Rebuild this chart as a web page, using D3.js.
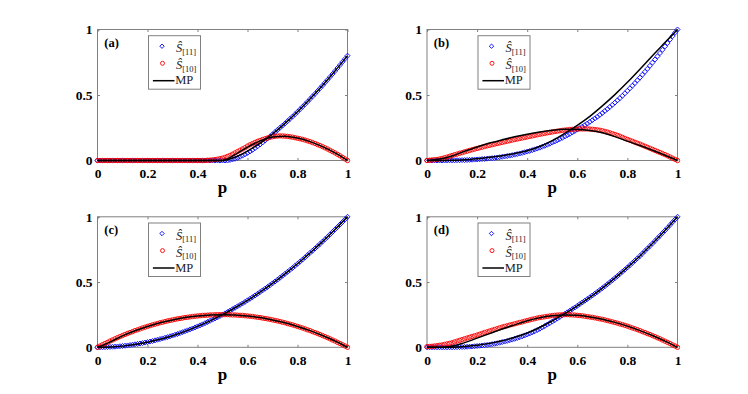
<!DOCTYPE html>
<html><head><meta charset="utf-8">
<script src="https://cdn.jsdelivr.net/npm/d3@7"></script>
<style>body{margin:0;background:#fff}svg{display:block}</style>
</head><body><svg id="c" width="748" height="394"></svg>
<script>
// ---- grids and tick labels ----
const pGrid = d3.range(101).map(i => i / 100);   // marker sampling grid of p
const mpGrid = d3.range(21).map(i => i / 20);    // MP line sampling grid of p
const xTicks = [0, 0.2, 0.4, 0.6, 0.8, 1];
const xTickLabels = ["0", "0.2", "0.4", "0.6", "0.8", "1"];
const yTicks = [0, 0.5, 1];
const yTickLabels = ["0", "0.5", "1"];
const panelLabels = ["(a)", "(b)", "(c)", "(d)"];
const xLabel = "p";
const legendSub = ["[11]", "[10]"];
const legendMP = "MP";

// ---- panel (a) ----
const a_S11 = [
0,0,0,0,0,0,0,0,0,0,
0,0,0,0,0,0,0,0,0,0,
0,0,0,0,0,0,0,0,0,0,
0,0,0,0,0,0,0,0,0,0,
0,0,0,0,0,0,0,0,0,0,
0,0,0,0.004,0.008,0.013,0.020,0.028,0.037,0.047,
0.058,0.069,0.081,0.094,0.108,0.122,0.137,0.152,0.168,0.184,
0.200,0.217,0.234,0.250,0.266,0.283,0.300,0.318,0.335,0.353,
0.372,0.391,0.410,0.429,0.449,0.469,0.489,0.509,0.530,0.551,
0.572,0.594,0.616,0.638,0.660,0.683,0.706,0.729,0.753,0.776,
0.800];
const a_S10 = [
0,0,0,0,0,0,0,0,0,0,
0,0,0,0,0,0,0,0,0,0,
0,0,0,0,0,0,0,0,0,0,
0,0,0,0,0,0,0,0,0,0,
0,0,0,0,0.002,0.003,0.005,0.007,0.010,0.014,
0.018,0.024,0.031,0.039,0.048,0.058,0.068,0.078,0.088,0.098,
0.110,0.120,0.129,0.138,0.146,0.153,0.160,0.166,0.172,0.177,
0.182,0.185,0.187,0.188,0.187,0.186,0.184,0.181,0.178,0.174,
0.170,0.166,0.161,0.156,0.150,0.144,0.137,0.130,0.122,0.114,
0.106,0.097,0.088,0.078,0.068,0.058,0.047,0.036,0.024,0.012,
0];
const a_MP11 = [0,0,0,0,0,0,0,0,0,0,0,0.025,0.072,0.131,0.202,0.283,0.372,0.469,0.572,0.683,0.800];
const a_MP10 = [0,0,0,0,0,0,0,0,0,0,0,0.045,0.102,0.150,0.180,0.186,0.171,0.144,0.106,0.058,0];

// ---- panel (b) ----
const b_S11 = [
0,0,0,0,0,0,0,0,0.001,0.001,
0.001,0.001,0.002,0.002,0.003,0.003,0.004,0.005,0.006,0.007,
0.008,0.009,0.011,0.012,0.014,0.016,0.018,0.020,0.022,0.025,
0.028,0.031,0.034,0.037,0.041,0.045,0.049,0.053,0.058,0.063,
0.068,0.073,0.079,0.085,0.091,0.098,0.105,0.112,0.120,0.128,
0.137,0.145,0.154,0.164,0.173,0.183,0.193,0.203,0.214,0.225,
0.236,0.247,0.258,0.270,0.282,0.295,0.308,0.321,0.334,0.348,
0.363,0.378,0.393,0.409,0.425,0.442,0.459,0.476,0.494,0.513,
0.532,0.551,0.571,0.591,0.612,0.633,0.655,0.677,0.700,0.723,
0.747,0.771,0.795,0.820,0.845,0.871,0.896,0.923,0.949,0.975,
1];
const b_S10 = [
0,0.002,0.004,0.006,0.008,0.011,0.016,0.021,0.026,0.032,
0.038,0.044,0.049,0.055,0.060,0.066,0.071,0.077,0.082,0.087,
0.092,0.097,0.102,0.107,0.112,0.116,0.121,0.125,0.130,0.134,
0.138,0.143,0.147,0.151,0.156,0.160,0.164,0.168,0.172,0.176,
0.180,0.184,0.188,0.192,0.196,0.200,0.204,0.207,0.211,0.214,
0.218,0.221,0.224,0.227,0.230,0.232,0.234,0.236,0.238,0.239,
0.240,0.241,0.241,0.241,0.241,0.240,0.238,0.236,0.234,0.231,
0.227,0.222,0.217,0.211,0.205,0.199,0.192,0.185,0.177,0.169,
0.161,0.154,0.147,0.139,0.132,0.125,0.117,0.109,0.101,0.093,
0.085,0.077,0.069,0.061,0.053,0.045,0.036,0.027,0.018,0.009,
0];
const b_MP11 = [0,0,0.002,0.006,0.014,0.024,0.037,0.054,0.075,0.107,0.152,0.207,0.268,0.337,0.417,0.503,0.597,0.697,0.800,0.900,1];
const b_MP10 = [0,0.012,0.035,0.070,0.103,0.133,0.158,0.181,0.201,0.218,0.231,0.238,0.237,0.229,0.212,0.182,0.148,0.114,0.078,0.040,0];

// ---- panel (c) ----
const c_S11 = [
0,0,0,0.001,0.002,0.003,0.004,0.005,0.006,0.008,
0.010,0.012,0.014,0.017,0.020,0.023,0.026,0.029,0.032,0.036,
0.040,0.044,0.048,0.053,0.058,0.063,0.068,0.073,0.078,0.084,
0.090,0.096,0.102,0.109,0.116,0.123,0.130,0.137,0.144,0.152,
0.160,0.168,0.176,0.185,0.194,0.203,0.212,0.221,0.230,0.240,
0.250,0.260,0.270,0.281,0.292,0.303,0.314,0.325,0.336,0.348,
0.360,0.372,0.384,0.397,0.410,0.423,0.436,0.449,0.462,0.476,
0.490,0.504,0.518,0.533,0.548,0.563,0.578,0.593,0.608,0.624,
0.640,0.656,0.672,0.689,0.706,0.723,0.740,0.757,0.774,0.792,
0.810,0.828,0.846,0.865,0.884,0.903,0.922,0.941,0.960,0.980,
1];
const c_S10 = [
0,0.010,0.020,0.029,0.038,0.048,0.056,0.065,0.074,0.082,
0.090,0.098,0.106,0.113,0.120,0.128,0.134,0.141,0.148,0.154,
0.160,0.166,0.172,0.177,0.182,0.188,0.192,0.197,0.202,0.206,
0.210,0.214,0.218,0.221,0.224,0.228,0.230,0.233,0.236,0.238,
0.240,0.242,0.244,0.245,0.246,0.248,0.248,0.249,0.250,0.250,
0.250,0.250,0.250,0.249,0.248,0.248,0.246,0.245,0.244,0.242,
0.240,0.238,0.236,0.233,0.230,0.228,0.224,0.221,0.218,0.214,
0.210,0.206,0.202,0.197,0.192,0.188,0.182,0.177,0.172,0.166,
0.160,0.154,0.148,0.141,0.134,0.128,0.120,0.113,0.106,0.098,
0.090,0.082,0.074,0.065,0.056,0.048,0.038,0.029,0.020,0.010,
0];
const c_MP11 = [0,0.002,0.009,0.021,0.039,0.061,0.089,0.122,0.160,0.203,0.250,0.303,0.360,0.423,0.490,0.563,0.640,0.723,0.810,0.903,1];
const c_MP10 = [0,0.040,0.088,0.127,0.160,0.188,0.210,0.228,0.240,0.248,0.250,0.248,0.240,0.228,0.210,0.188,0.160,0.128,0.090,0.048,0];

// ---- panel (d) ----
const d_S11 = [
0,0,0,0,0,0,0,0,0,0,
0,0.001,0.001,0.002,0.002,0.003,0.004,0.005,0.006,0.008,
0.010,0.012,0.014,0.016,0.018,0.021,0.024,0.027,0.031,0.035,
0.040,0.044,0.049,0.054,0.059,0.065,0.071,0.077,0.084,0.091,
0.098,0.106,0.114,0.123,0.132,0.142,0.152,0.163,0.174,0.185,
0.197,0.208,0.220,0.232,0.244,0.256,0.268,0.280,0.293,0.305,
0.318,0.331,0.344,0.357,0.370,0.383,0.397,0.411,0.425,0.439,
0.453,0.468,0.483,0.499,0.514,0.530,0.546,0.562,0.579,0.595,
0.612,0.629,0.647,0.664,0.682,0.700,0.719,0.738,0.757,0.776,
0.795,0.815,0.835,0.855,0.875,0.895,0.916,0.937,0.958,0.979,
1];
const d_S10 = [
0.005,0.006,0.008,0.010,0.012,0.015,0.018,0.022,0.026,0.030,
0.035,0.041,0.047,0.053,0.059,0.065,0.071,0.077,0.083,0.088,
0.094,0.100,0.107,0.113,0.119,0.125,0.131,0.137,0.143,0.149,
0.155,0.160,0.165,0.170,0.175,0.180,0.185,0.190,0.195,0.200,
0.205,0.210,0.215,0.219,0.224,0.228,0.231,0.234,0.237,0.240,
0.243,0.245,0.247,0.248,0.249,0.250,0.250,0.249,0.248,0.247,
0.245,0.243,0.241,0.238,0.235,0.232,0.229,0.226,0.222,0.218,
0.214,0.210,0.205,0.200,0.195,0.190,0.185,0.179,0.174,0.168,
0.162,0.155,0.148,0.142,0.135,0.128,0.120,0.113,0.105,0.098,
0.090,0.082,0.073,0.065,0.056,0.047,0.038,0.029,0.019,0.010,
0];
const d_MP11 = [0,0,0.001,0.006,0.015,0.030,0.050,0.077,0.110,0.152,0.203,0.258,0.318,0.383,0.453,0.530,0.612,0.700,0.795,0.895,1];
const d_MP10 = [0,0,0.008,0.036,0.070,0.105,0.140,0.172,0.203,0.226,0.241,0.248,0.245,0.233,0.215,0.191,0.162,0.128,0.090,0.047,0];

// ---- layout (not data) ----
const panels = [
  {s11: a_S11, s10: a_S10, mp11: a_MP11, mp10: a_MP10, x0: 97.5,  y0: 29.5,  w: 250, h: 131},
  {s11: b_S11, s10: b_S10, mp11: b_MP11, mp10: b_MP10, x0: 427,   y0: 29.5,  w: 250.5, h: 131},
  {s11: c_S11, s10: c_S10, mp11: c_MP11, mp10: c_MP10, x0: 97.5,  y0: 216.8, w: 250, h: 130.5},
  {s11: d_S11, s10: d_S10, mp11: d_MP11, mp10: d_MP10, x0: 427,   y0: 216.8, w: 250.5, h: 130.5}
];
const BLUE = "#0000ff", RED = "#ff0000", AX = "#808080";
const SERIF = "'Liberation Serif','Times New Roman',serif";
const diamond = r => `M0,${-r}L${r},0L0,${r}L${-r},0Z`;

const svg = d3.select("#c");
svg.append("rect").attr("width", 748).attr("height", 394).attr("fill", "#fff");

panels.forEach((P, k) => {
  const x = d3.scaleLinear().domain([0, 1]).range([P.x0, P.x0 + P.w]);
  const y = d3.scaleLinear().domain([0, 1]).range([P.y0 + P.h, P.y0]);
  const g = svg.append("g");

  // box
  g.append("rect").attr("x", P.x0).attr("y", P.y0).attr("width", P.w).attr("height", P.h)
    .attr("fill", "none").attr("stroke", AX).attr("stroke-width", 1);

  const styleAxis = sel => {
    sel.attr("font-family", SERIF).attr("font-size", 13.5).attr("font-weight", "bold");
    sel.select(".domain").remove();
    sel.selectAll(".tick line").attr("stroke", AX).attr("stroke-width", 1);
    sel.selectAll(".tick text").attr("fill", "#000");
  };
  g.append("g").attr("transform", `translate(0,${P.y0 + P.h})`)
    .call(d3.axisBottom(x).tickValues(xTicks).tickFormat((d, i) => xTickLabels[i]).tickSize(-2.5).tickPadding(8.2))
    .call(styleAxis);
  g.append("g").attr("transform", `translate(0,${P.y0})`)
    .call(d3.axisTop(x).tickValues(xTicks).tickFormat("").tickSize(-2.5))
    .call(styleAxis);
  g.append("g").attr("transform", `translate(${P.x0},0)`)
    .call(d3.axisLeft(y).tickValues(yTicks).tickFormat((d, i) => yTickLabels[i]).tickSize(-2.5).tickPadding(5))
    .call(styleAxis);
  g.append("g").attr("transform", `translate(${P.x0 + P.w},0)`)
    .call(d3.axisRight(y).tickValues(yTicks).tickFormat("").tickSize(-2.5))
    .call(styleAxis);

  // markers: S11 (blue diamonds), S10 (red circles)
  g.append("g").selectAll("path").data(P.s11).join("path")
    .attr("d", diamond(2.5))
    .attr("transform", (d, i) => `translate(${x(pGrid[i])},${y(d)})`)
    .attr("fill", "none").attr("stroke", BLUE).attr("stroke-width", 0.9);
  g.append("g").selectAll("circle").data(P.s10).join("circle")
    .attr("cx", (d, i) => x(pGrid[i])).attr("cy", d => y(d)).attr("r", 2.2)
    .attr("fill", "none").attr("stroke", RED).attr("stroke-width", 0.9);

  // MP lines
  const line = d3.line().x((d, i) => x(mpGrid[i])).y(d => y(d)).curve(d3.curveMonotoneX);
  [P.mp11, P.mp10].forEach(arr => {
    g.append("path").attr("d", line(arr)).attr("fill", "none")
      .attr("stroke", "#000").attr("stroke-width", 1.5);
  });

  // panel label
  g.append("text").attr("x", P.x0 + 6.8).attr("y", P.y0 + 17)
    .attr("font-family", SERIF).attr("font-weight", "bold").attr("font-size", 12.5)
    .text(panelLabels[k]);

  // x label
  g.append("text").attr("x", P.x0 + P.w / 2).attr("y", P.y0 + P.h + 32.3)
    .attr("text-anchor", "middle").attr("font-family", SERIF).attr("font-weight", "bold")
    .attr("font-size", 17).text(xLabel);

  // legend
  const L = g.append("g").attr("transform", `translate(${P.x0 + 51},${P.y0 + 6.2})`);
  L.append("rect").attr("x", 0).attr("y", 0).attr("width", 52).attr("height", 53.5)
    .attr("fill", "#fff").attr("stroke", AX).attr("stroke-width", 1);
  L.append("path").attr("d", diamond(2.2)).attr("transform", "translate(13.5,10.5)")
    .attr("fill", "none").attr("stroke", BLUE).attr("stroke-width", 0.9);
  L.append("circle").attr("cx", 14).attr("cy", 27.6).attr("r", 2)
    .attr("fill", "none").attr("stroke", RED).attr("stroke-width", 0.9);
  L.append("line").attr("x1", 4.4).attr("x2", 26).attr("y1", 45).attr("y2", 45)
    .attr("stroke", "#000").attr("stroke-width", 1.5);
  [16.6, 33.6].forEach((by, j) => {
    const t = L.append("text").attr("x", 27.4).attr("y", by).attr("font-family", SERIF).attr("fill", "#222");
    t.append("tspan").attr("font-style", "italic").attr("font-size", 12.5).text("\u015C");
    t.append("tspan").attr("font-size", 8.5).attr("dy", 2.3).text(legendSub[j]);
  });
  L.append("text").attr("x", 26.7).attr("y", 48.6).attr("font-family", SERIF)
    .attr("font-size", 12.5).attr("fill", "#222").text(legendMP);
});
</script>
</body></html>
